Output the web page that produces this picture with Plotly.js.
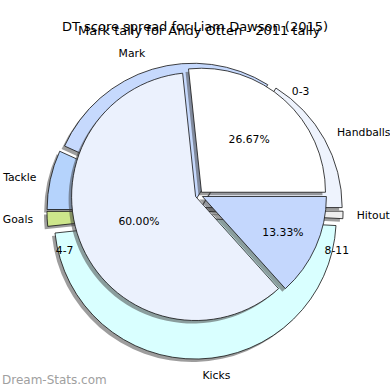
<!DOCTYPE html>
<html>
<head>
<meta charset="utf-8">
<script src="https://cdn.plot.ly/plotly-3.0.1.min.js"></script>
<style>html,body{margin:0;padding:0;background:#fff;}#chart{width:390px;height:390px;}</style>
</head>
<body>
<div id="chart"></div>
<script>
// Outer pie: DT score spread for Liam Dawson (2015)
var statLabels = ["Handballs", "Mark", "Tackle", "Goals", "Kicks", "Hitout"];
var statValues = [19, 32, 8, 2, 56, 1];
var statColors = ["#eef3fd", "#c6d9fd", "#b5d3fc", "#cde68b", "#d9ffff", "#eeeeee"];

// Inner pie: Mark tally for Andy Otten - 2011
var tallyLabels = ["0-3", "4-7", "8-11"];
var tallyValues = [4, 9, 2];
var tallyColors = ["#ffffff", "#ebf1fd", "#c4d7fd"];

var titleOuter = "DT score spread for Liam Dawson (2015)";
var titleInner = "Mark tally for Andy Otten - 2011 tally";

var W = 390, H = 390;
function dom(cx, cy, r, pull, dx, dy) {
  var half = r * (1 + pull);
  return {
    x: [(cx - half + dx) / W, (cx + half + dx) / W],
    y: [(H - cy - half - dy) / H, (H - cy + half - dy) / H]
  };
}
function sum(a) { return a.reduce(function(s, v){ return s + v; }, 0); }
// first slice starts at 3 o'clock and slices run counterclockwise
function rot(values) { return 90 - 360 * values[0] / sum(values); }

var outerPull = 0.05, innerPull = 0.03;
var outerC = [195, 211, 141], innerC = [199, 195, 124];
var outerLabelR = 151, innerLabelR = 130;
var sh = 3;
var shadowCol = "rgba(60,60,60,0.5)";
var clear = "rgba(0,0,0,0)";
var font = "DejaVu Sans, sans-serif";

function pieBase(labels, values, pull, domain) {
  return {
    type: "pie", labels: labels, values: values, sort: false,
    direction: "counterclockwise", rotation: rot(values),
    pull: labels.map(function(){return pull;}),
    domain: domain, hoverinfo: "skip", showlegend: false
  };
}
function fill(labels, c) { return labels.map(function(){ return c; }); }

// outer shadow
var t1 = pieBase(statLabels, statValues, outerPull, dom(outerC[0], outerC[1], outerC[2], outerPull, -sh, sh));
t1.marker = {colors: fill(statLabels, shadowCol), line: {width: 0}};
t1.textinfo = "none";

// outer slices
var t2 = pieBase(statLabels, statValues, outerPull, dom(outerC[0], outerC[1], outerC[2], outerPull, 0, 0));
t2.marker = {colors: statColors, line: {color: "#111", width: 0.8}};
t2.textinfo = "none";

// outer labels (invisible ring, slightly larger, carries the outside labels)
var t2l = pieBase(statLabels, statValues, outerPull, dom(outerC[0], outerC[1], outerLabelR, outerPull, 0, 0));
t2l.marker = {colors: fill(statLabels, clear), line: {width: 0}};
t2l.textinfo = "label"; t2l.textposition = "outside";
t2l.textfont = {family: font, size: 10.8, color: "#000"};

// inner shadow
var t3 = pieBase(tallyLabels, tallyValues, innerPull, dom(innerC[0], innerC[1], innerC[2], innerPull, -sh, sh));
t3.marker = {colors: fill(tallyLabels, shadowCol), line: {width: 0}};
t3.textinfo = "none";

// inner slices with percentages
var t4 = pieBase(tallyLabels, tallyValues, innerPull, dom(innerC[0], innerC[1], innerC[2], innerPull, 0, 0));
t4.marker = {colors: tallyColors, line: {color: "#111", width: 0.8}};
t4.texttemplate = "%{percent:.2%}"; t4.textposition = "inside";
t4.insidetextorientation = "horizontal";
t4.textfont = {family: font, size: 10.8, color: "#000"};

// inner labels
var t5 = pieBase(tallyLabels, tallyValues, innerPull, dom(innerC[0], innerC[1], innerLabelR, innerPull, 0, 0));
t5.marker = {colors: fill(tallyLabels, clear), line: {width: 0}};
t5.textinfo = "label"; t5.textposition = "outside";
t5.textfont = {family: font, size: 10.8, color: "#000"};

var layout = {
  width: W, height: H,
  margin: {l: 0, r: 0, t: 0, b: 0},
  paper_bgcolor: "#fff",
  font: {family: font, color: "#000"},
  title: {text: titleOuter, font: {family: font, size: 13, color: "#000"},
          x: outerC[0] / W, xanchor: "center", xref: "paper",
          y: 1 - 26 / H, yanchor: "middle", yref: "container"},
  annotations: [
    {text: titleInner, x: 199.5 / W, y: 1 - 31 / H, xref: "paper", yref: "paper",
     xanchor: "center", yanchor: "middle", showarrow: false,
     font: {family: font, size: 13, color: "#000"}},
    {text: "Dream-Stats.com", x: 0, y: 1 - 380 / H, xref: "paper", yref: "paper",
     xanchor: "left", yanchor: "middle", showarrow: false,
     font: {family: font, size: 12, color: "#a0a0a0"}}
  ]
};

Plotly.newPlot("chart", [t1, t2, t2l, t3, t4, t5], layout, {staticPlot: true, displayModeBar: false});
</script>
</body>
</html>
